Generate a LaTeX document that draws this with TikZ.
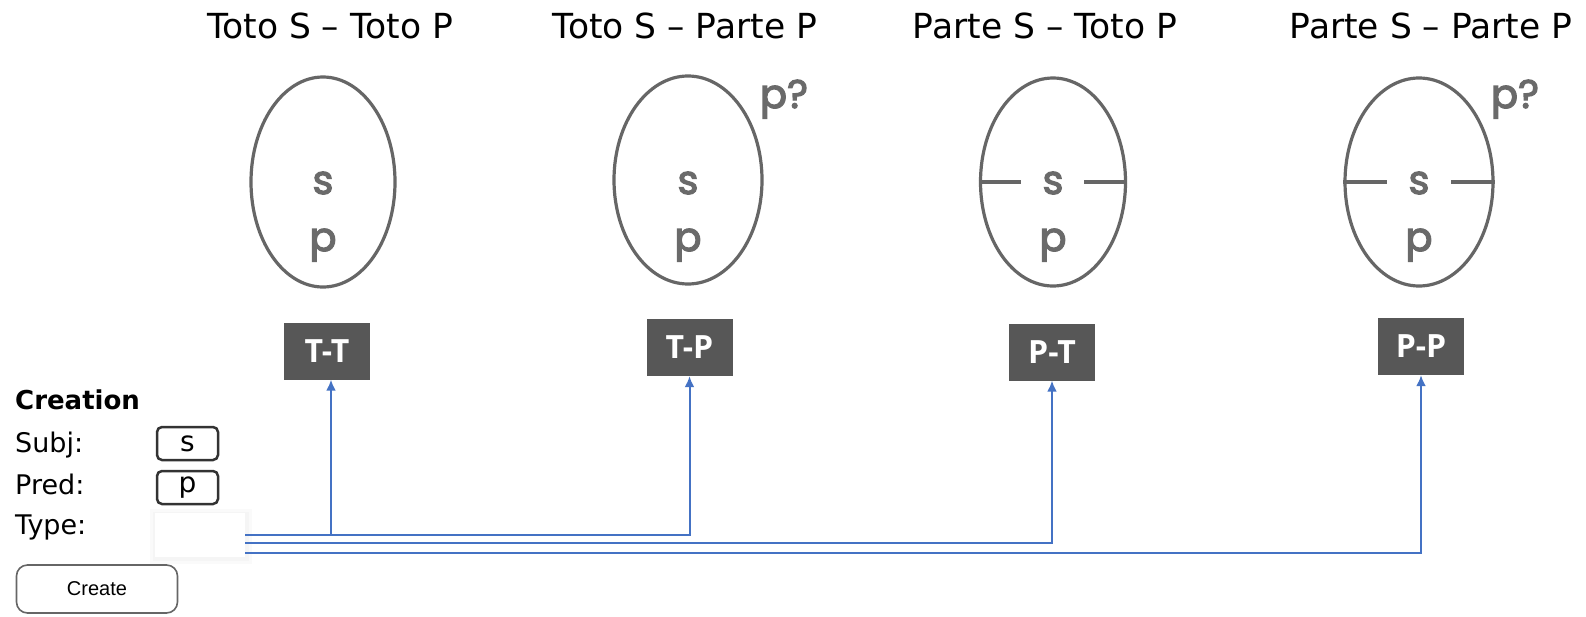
\documentclass[tikz,border=0pt]{standalone}
\usepackage{fontspec}
\setmainfont{DejaVu Sans}
\newfontfamily\geofont{Poppins}[BoldFont=*, BoldFeatures={FakeBold=3}]
\newfontfamily\labelfont{Open Sans}
\newfontfamily\btnfont{Liberation Sans}
\usetikzlibrary{arrows.meta,shapes.geometric}
\definecolor{ovalgray}{HTML}{666666}
\definecolor{lettergray}{HTML}{6A6A6A}
\definecolor{boxgray}{HTML}{575757}
\definecolor{linkblue}{HTML}{4472C4}
\definecolor{framegray}{HTML}{333333}
\begin{document}
\begin{tikzpicture}[x=1pt,y=-1pt,
  title/.style={font=\fontsize{34.5}{40}\selectfont, anchor=base, inner sep=0},
  oval/.style={ellipse, draw=ovalgray, line width=3.2pt, inner sep=0},
  letter/.style={font=\geofont\bfseries\fontsize{40}{44}\selectfont, text=lettergray, inner sep=0, anchor=base},
  kind/.style={fill=boxgray, text=white, font=\labelfont\bfseries\fontsize{32}{36}\selectfont,
    inner sep=0, minimum width=86pt, minimum height=57pt},
  divider/.style={draw=ovalgray, line width=3.2pt},
  link/.style={draw=linkblue, line width=2pt},
  arr/.style={link, -{Latex[length=11pt,width=10pt]}},
  formtext/.style={font=\fontsize{27}{30}\selectfont, anchor=base west, inner sep=0},
  field/.style={draw=framegray, line width=2.5pt, rounded corners=5pt, minimum width=61pt,
    minimum height=33pt, inner sep=0, font=\fontsize{28}{30}\selectfont},
  button/.style={draw=black!60, line width=1.6pt, rounded corners=11pt, minimum width=161pt,
    minimum height=48pt, inner sep=0, font=\btnfont\fontsize{20}{24}\selectfont}
]
\useasboundingbox (0,0) rectangle (1586,616);
\fill[white] (0,0) rectangle (1586,616);

% column titles
\node[title] (h1) at (330,38) {Toto S – Toto P};
\node[title] (h2) at (685,38) {Toto S – Parte P};
\node[title] (h3) at (1045,38) {Parte S – Toto P};
\node[title] (h4) at (1431,38) {Parte S – Parte P};

% ovals
\node[oval, minimum width=144pt, minimum height=210pt] (e1) at (323,182) {};
\node[oval, minimum width=148pt, minimum height=208pt] (e2) at (688,180) {};
\node[oval, minimum width=145pt, minimum height=208pt] (e3) at (1053,182) {};
\node[oval, minimum width=148pt, minimum height=208pt] (e4) at (1419,182) {};

% dividers of the partial subjects
\draw[divider] (e3.west) -- ++(42,0);
\draw[divider] (e3.east) -- ++(-43,0);
\draw[divider] (e4.west) -- ++(44,0);
\draw[divider] (e4.east) -- ++(-44,0);

% letters inside the ovals
\node[letter] (s1) at (323,194) {s};
\node[letter] (p1) at (323,251) {p};
\node[letter] (s2) at (688,194) {s};
\node[letter] (p2) at (688,251) {p};
\node[letter] (q2) at (784,108) {p?};
\node[letter] (s3) at (1053,194) {s};
\node[letter] (p3) at (1053,251) {p};
\node[letter] (s4) at (1419,194) {s};
\node[letter] (p4) at (1419,251) {p};
\node[letter] (q4) at (1515,108) {p?};

% type boxes
\node[kind] (tt) at (327,351) {T-T};
\node[kind] (tp) at (689.5,347.5) {T-P};
\node[kind] (pt) at (1052,352) {P-T};
\node[kind] (pp) at (1421,346.5) {P-P};

% creation form
\node[formtext, font=\bfseries\fontsize{26}{30}\selectfont] (cr) at (15,409) {Creation};
\node[formtext] (subj) at (15,452) {Subj:};
\node[formtext] (pred) at (15,494) {Pred:};
\node[formtext] (type) at (15,534) {Type:};
\node[field] (fs) at (187.5,443.5) {s};
\node[field] (fp) at (187.5,487.5) {p};
\fill[black!2] (150,509) rectangle (252,564);
\fill[black!4] (153,512) rectangle (249,561);
\node[fill=white, minimum width=90pt, minimum height=44pt, inner sep=0] (typebox) at (200,535) {};
\node[button] (create) at (97,589) {Create};

% links from the type selector to the boxes
\coordinate (la) at (typebox.east |- 0,535);
\coordinate (lb) at (typebox.east |- 0,543);
\coordinate (lc) at (typebox.east |- 0,553);
\coordinate (ja) at (331,535);
\draw[arr] (la) -| (tp.south);
\draw[arr] (ja) -- (ja |- tt.south);
\draw[arr] (lb) -| (pt.south);
\draw[arr] (lc) -| (pp.south);
\end{tikzpicture}
\end{document}
